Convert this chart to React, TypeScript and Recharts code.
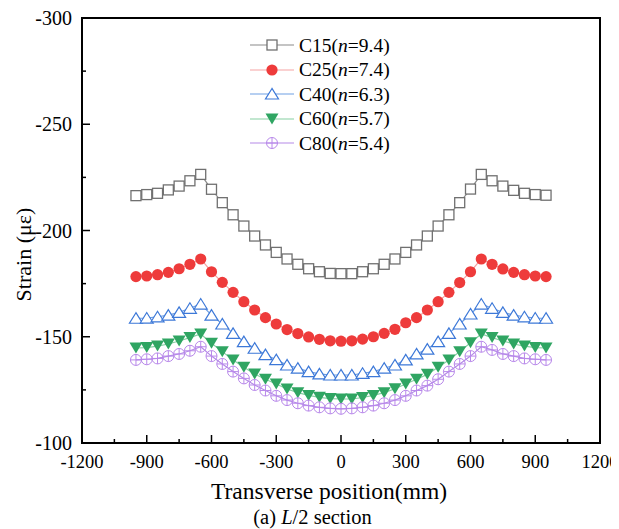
import React from 'react';
import { LineChart, Line, XAxis, YAxis, ReferenceArea, Label } from 'recharts';

const positions = [-950, -900, -850, -800, -750, -700, -650, -600, -550, -500, -450, -400, -350, -300, -250, -200, -150, -100, -50, 0, 50, 100, 150, 200, 250, 300, 350, 400, 450, 500, 550, 600, 650, 700, 750, 800, 850, 900, 950];

const c15 = [-216.4, -216.9, -217.5, -219.1, -220.9, -223.4, -226.4, -219.4, -213.1, -207.4, -202.1, -197.4, -193.2, -189.7, -186.6, -184.1, -182.0, -180.6, -179.8, -179.7, -179.7, -180.6, -182.0, -184.1, -186.6, -189.7, -193.2, -197.4, -202.1, -207.4, -213.1, -219.5, -226.4, -223.4, -220.9, -218.9, -217.5, -216.9, -216.6];
const c25 = [-178.3, -178.6, -179.2, -180.3, -182.0, -184.1, -186.6, -180.6, -175.6, -170.9, -166.5, -162.6, -159.0, -156.0, -153.4, -151.5, -149.9, -148.8, -148.1, -147.9, -148.1, -148.9, -150.0, -151.6, -153.5, -156.6, -159.0, -162.6, -166.5, -170.9, -175.5, -180.6, -186.6, -184.1, -181.9, -180.3, -179.2, -178.6, -178.3];
const c40 = [-158.7, -158.8, -159.4, -160.2, -161.5, -163.4, -165.4, -160.2, -156.0, -151.6, -147.7, -144.6, -141.6, -139.2, -136.7, -135.2, -133.6, -132.5, -132.0, -132.0, -132.0, -132.8, -133.6, -135.2, -136.7, -139.1, -141.9, -144.2, -147.7, -151.6, -156.0, -160.7, -165.4, -163.4, -161.5, -160.2, -159.4, -158.8, -158.7];
const c60 = [-144.7, -144.9, -145.6, -146.6, -148.0, -149.6, -151.3, -146.9, -143.0, -139.1, -135.6, -132.5, -130.0, -127.8, -125.4, -123.7, -122.4, -121.5, -120.9, -120.7, -120.7, -121.4, -122.4, -123.7, -125.5, -127.8, -130.0, -132.3, -135.6, -139.1, -143.0, -147.2, -151.3, -149.6, -148.0, -146.6, -145.6, -144.9, -144.7];
const c80 = [-139.1, -139.4, -139.8, -140.9, -141.9, -143.4, -145.3, -140.9, -137.2, -133.6, -130.4, -127.3, -124.7, -122.2, -120.2, -118.7, -117.6, -116.8, -116.3, -116.1, -116.3, -116.8, -117.6, -118.7, -120.2, -122.2, -124.7, -127.0, -130.0, -133.6, -137.2, -140.9, -145.3, -143.8, -141.9, -140.9, -139.8, -139.4, -139.1];

const xTicks = [-1200, -1050, -900, -750, -600, -450, -300, -150, 0, 150, 300, 450, 600, 750, 900, 1050, 1200];
const yTicks = [-300, -275, -250, -225, -200, -175, -150, -125, -100];

const legendItems = [
  { key: 'c15', grade: 'C15', n: '9.4' },
  { key: 'c25', grade: 'C25', n: '7.4' },
  { key: 'c40', grade: 'C40', n: '6.3' },
  { key: 'c60', grade: 'C60', n: '5.7' },
  { key: 'c80', grade: 'C80', n: '5.4' },
];

const data = positions.map((x, i) => ({ x, c15: c15[i], c25: c25[i], c40: c40[i], c60: c60[i], c80: c80[i] }));

const FONT = '"Liberation Serif", "Times New Roman", serif';

const styles: Record<string, { line: string; mark: string }> = {
  c15: { line: '#8a8a8a', mark: '#707070' },
  c25: { line: '#f5a3a3', mark: '#ee3b3b' },
  c40: { line: '#6f9fe3', mark: '#3c78d8' },
  c60: { line: '#86d0a2', mark: '#2fa562' },
  c80: { line: '#b58ae8', mark: '#b888ea' },
};

function Marker({ kind, cx, cy }: { kind: string; cx: number; cy: number }) {
  const s = styles[kind].mark;
  if (kind === 'c15') return <rect x={cx - 5} y={cy - 5} width={10} height={10} fill="#fff" stroke={s} strokeWidth={1.3} />;
  if (kind === 'c25') return <circle cx={cx} cy={cy} r={5.6} fill={s} />;
  if (kind === 'c40')
    return <polygon points={`${cx},${cy - 5.5} ${cx - 6.5},${cy + 5} ${cx + 6.5},${cy + 5}`} fill="#fff" stroke={s} strokeWidth={1.2} />;
  if (kind === 'c60')
    return <polygon points={`${cx - 6.5},${cy - 5.5} ${cx + 6.5},${cy - 5.5} ${cx},${cy + 5.5}`} fill={s} />;
  return (
    <g stroke={s} strokeWidth={1} fill="none">
      <circle cx={cx} cy={cy} r={5.5} />
      <line x1={cx - 5.5} y1={cy} x2={cx + 5.5} y2={cy} />
      <line x1={cx} y1={cy - 5.5} x2={cx} y2={cy + 5.5} />
    </g>
  );
}

const makeDot = (kind: string) => (props: any) => (
  <g key={`${kind}-${props.index}`}>
    <Marker kind={kind} cx={props.cx} cy={props.cy} />
  </g>
);

const XTick = (props: any) => {
  const { x, y, payload } = props;
  const major = payload.value % 300 === 0;
  return (
    <g>
      <line x1={x} y1={y} x2={x} y2={y - (major ? 8 : 4)} stroke="#000" strokeWidth={1.5} />
      {major && (
        <text x={x} y={y + 25} textAnchor="middle" fontFamily={FONT} fontSize={18.5} fill="#000">
          {payload.value}
        </text>
      )}
    </g>
  );
};

const YTick = (props: any) => {
  const { x, y, payload } = props;
  const major = payload.value % 50 === 0;
  return (
    <g>
      <line x1={x} y1={y} x2={x + (major ? 8 : 4)} y2={y} stroke="#000" strokeWidth={1.5} />
      {major && (
        <text x={x - 10} y={y + 7} textAnchor="end" fontFamily={FONT} fontSize={20} fill="#000">
          {payload.value}
        </text>
      )}
    </g>
  );
};

const LegendBox = () => (
  <div style={{ position: 'absolute', left: 250, top: 33, fontFamily: FONT, fontSize: 19.5, color: '#000', lineHeight: 1 }}>
    {legendItems.map((it) => (
      <div key={it.key} style={{ display: 'flex', alignItems: 'center', height: 24.5 }}>
        <svg width={44} height={14} style={{ marginRight: 5 }}>
          <line x1={0} y1={7} x2={44} y2={7} stroke={styles[it.key].line} strokeWidth={1.2} />
          <Marker kind={it.key} cx={22} cy={7} />
        </svg>
        <span>
          {it.grade}(<i>n</i>={it.n})
        </span>
      </div>
    ))}
  </div>
);

export default function App() {
  return (
    <div style={{ position: 'relative', margin: '-8px 0 0 -8px', width: 619, height: 529 }}>
      <LineChart width={619} height={529} data={data} margin={{ top: 18, right: 19, left: 0, bottom: 0 }}>
        <XAxis
          type="number"
          dataKey="x"
          domain={[-1200, 1200]}
          ticks={xTicks}
          interval={0}
          tickSize={0}
          tickMargin={0}
          tickLine={false}
          height={86}
          axisLine={{ stroke: '#000', strokeWidth: 2 }}
          tick={<XTick />}
        >
          <Label
            content={(p: any) => {
              const vb = p.viewBox;
              return (
                <g fontFamily={FONT} fill="#000">
                  <text x={vb.x + vb.width / 2 - 12} y={vb.y + 56} textAnchor="middle" fontSize={23.5}>
                    Transverse position(mm)
                  </text>
                  <text x={vb.x + vb.width / 2 - 28.5} y={vb.y + 81} textAnchor="middle" fontSize={20.5}>
                    (a) <tspan fontStyle="italic">L</tspan>/2 section
                  </text>
                </g>
              );
            }}
          />
        </XAxis>
        <YAxis
          type="number"
          domain={[-300, -100]}
          reversed
          ticks={yTicks}
          interval={0}
          tickSize={0}
          tickMargin={0}
          tickLine={false}
          width={82}
          axisLine={{ stroke: '#000', strokeWidth: 2 }}
          tick={<YTick />}
        >
          <Label
            content={(p: any) => {
              const vb = p.viewBox;
              const cy = vb.y + vb.height / 2 + 24;
              return (
                <text x={31} y={cy} transform={`rotate(-90 31 ${cy})`} textAnchor="middle" fontFamily={FONT} fontSize={22} fill="#000">
                  Strain (με)
                </text>
              );
            }}
          />
        </YAxis>
        <ReferenceArea x1={-1200} x2={1200} y1={-300} y2={-100} fill="none" stroke="#000" strokeWidth={2} ifOverflow="visible" />
        {legendItems.map((it) => (
          <Line
            key={it.key}
            dataKey={it.key}
            stroke={styles[it.key].line}
            strokeWidth={1.2}
            dot={makeDot(it.key)}
            activeDot={false}
            isAnimationActive={false}
          />
        ))}
      </LineChart>
      <LegendBox />
    </div>
  );
}
